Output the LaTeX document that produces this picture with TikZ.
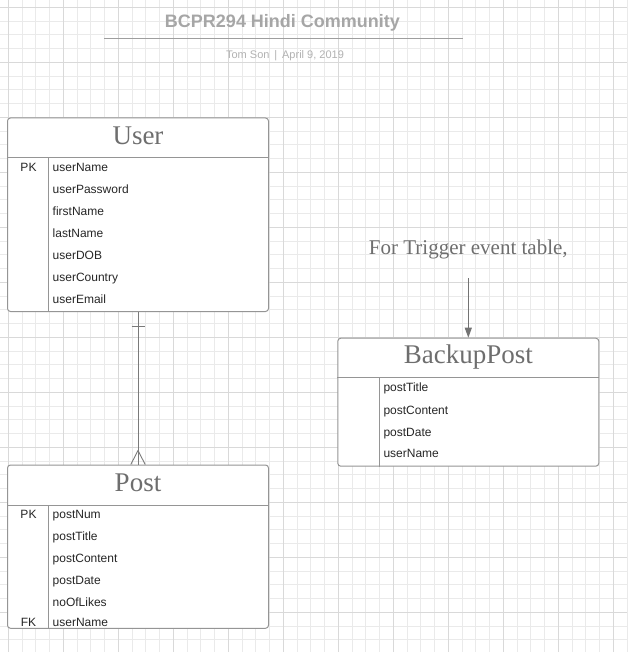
\documentclass[tikz,border=0pt]{standalone}
\usepackage{fontspec}
\setmainfont{Liberation Serif}
\newfontfamily\arial{Liberation Sans}
\usetikzlibrary{calc,arrows.meta}
\definecolor{gminor}{HTML}{EAEAEA}
\definecolor{gmajor}{HTML}{D9D9D9}
\definecolor{boxline}{HTML}{959595}
\definecolor{ttlcol}{HTML}{6E6E6E}
\definecolor{rowcol}{HTML}{262626}
\definecolor{conncol}{HTML}{7A7A7A}
\tikzset{
  minorgrid/.style={draw=gminor, line width=0.75pt},
  majorgrid/.style={draw=gmajor, line width=0.85pt},
  entity/.style={draw=boxline, fill=white, line width=1pt, rounded corners=3pt, inner sep=0pt, minimum width=261pt},
  entline/.style={draw=boxline, line width=1pt},
  ttl/.style={anchor=base, inner sep=0pt, text=ttlcol, font=\fontsize{27}{30}\selectfont},
  rowtxt/.style={anchor=base west, inner sep=0pt, text=rowcol, font=\arial\fontsize{12}{14}\selectfont},
  keytxt/.style={anchor=base, inner sep=0pt, text=rowcol, font=\arial\fontsize{12}{14}\selectfont},
  conn/.style={draw=conncol, line width=0.9pt},
}
\begin{document}
\begin{tikzpicture}[x=1pt,y=-1pt]
\useasboundingbox (0,0) rectangle (627,652);
\fill[white] (0,0) rectangle (627,652);
% grid
\foreach \i in {0,...,45} \draw[minorgrid] ({8.3+13.75*\i},0) -- ({8.3+13.75*\i},652);
\foreach \i in {0,...,47} \draw[minorgrid] (0,{7.3+13.75*\i}) -- (627,{7.3+13.75*\i});
\foreach \i in {0,...,11} \draw[majorgrid] ({8.3+55*\i},0) -- ({8.3+55*\i},652);
\foreach \i in {0,...,11} \draw[majorgrid] (0,{7.3+55*\i}) -- (627,{7.3+55*\i});

% header
\node[anchor=base, inner sep=0pt, text=black!35, font=\arial\bfseries\fontsize{18}{20}\selectfont] (title) at (282.5,27.3) {BCPR294 Hindi Community};
\draw[draw=black!38, line width=1.3pt] (104,38.3) -- (462.5,38.3);
\node[anchor=base, inner sep=0pt, text=black!30, font=\arial\fontsize{11}{13}\selectfont] (sub) at (285,58.3) {Tom Son \,|\, April 9, 2019};

% User entity
\node[entity, minimum height=193.5pt] (user) at (138,214.75) {};
\draw[entline] (user.west |- 0,157.7) -- (user.east |- 0,157.7);
\draw[entline] (48.7,157.7) -- (48.7,157.7 |- user.south);
\node[ttl] (usert) at (138,144.3) {User};
\node[keytxt] (upk) at (28.5,171.7) {PK};
\node[rowtxt] (u1) at (52.5,171.7) {userName};
\node[rowtxt] (u2) at (52.5,193.7) {userPassword};
\node[rowtxt] (u3) at (52.5,215.7) {firstName};
\node[rowtxt] (u4) at (52.5,237.7) {lastName};
\node[rowtxt] (u5) at (52.5,259.7) {userDOB};
\node[rowtxt] (u6) at (52.5,281.7) {userCountry};
\node[rowtxt] (u7) at (52.5,303.7) {userEmail};

% Post entity
\node[entity, minimum height=163.3pt] (post) at (138,546.65) {};
\draw[entline] (post.west |- 0,505) -- (post.east |- 0,505);
\draw[entline] (48.7,505) -- (48.7,505 |- post.south);
\node[ttl] (postt) at (138,491) {Post};
\node[keytxt] (ppk) at (28.5,518.3) {PK};
\node[keytxt] (pfk) at (28.5,626.5) {FK};
\node[rowtxt] (p1) at (52.5,518.3) {postNum};
\node[rowtxt] (p2) at (52.5,540.3) {postTitle};
\node[rowtxt] (p3) at (52.5,562.3) {postContent};
\node[rowtxt] (p4) at (52.5,584.3) {postDate};
\node[rowtxt] (p5) at (52.5,606.3) {noOfLikes};
\node[rowtxt] (p6) at (52.5,626.5) {userName};

% BackupPost entity
\node[entity, minimum height=128pt] (backup) at (468.3,402.2) {};
\draw[entline] (backup.west |- 0,377.7) -- (backup.east |- 0,377.7);
\draw[entline] (379.3,377.7) -- (379.3,377.7 |- backup.south);
\node[ttl] (backupt) at (468.3,363.3) {BackupPost};
\node[rowtxt] (b1) at (383.3,391.7) {postTitle};
\node[rowtxt] (b2) at (383.3,414) {postContent};
\node[rowtxt] (b3) at (383.3,436) {postDate};
\node[rowtxt] (b4) at (383.3,457.7) {userName};

% trigger note
\node[anchor=base, inner sep=0pt, text=ttlcol, font=\fontsize{21}{24}\selectfont] (trig) at (468.3,254) {For Trigger event table,};
\coordinate (arrstart) at (468.3,278);
\draw[conn, -{Triangle[length=10pt,width=7pt]}, draw=black!55, fill=black!55] (arrstart) -- (backup.north);

% relationship User 1 -- many Post
\draw[conn] (user.south) -- (post.north);
\draw[conn] ($(user.south)+(-6.5,14)$) -- ($(user.south)+(6.5,14)$);
\draw[conn] ($(post.north)+(0,-14)$) -- ($(post.north)+(-7.2,0)$);
\draw[conn] ($(post.north)+(0,-14)$) -- ($(post.north)+(7.2,0)$);
\end{tikzpicture}
\end{document}
